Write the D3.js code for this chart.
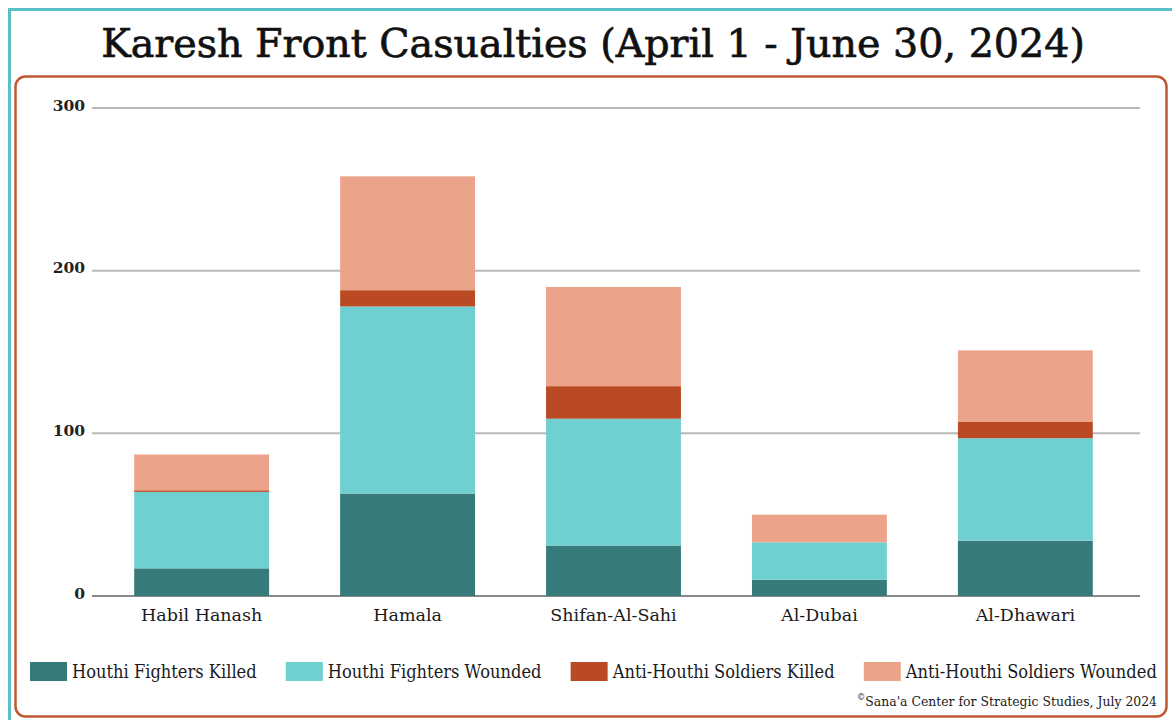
<!DOCTYPE html>
<html>
<head>
<meta charset="utf-8">
<script src="https://cdn.jsdelivr.net/npm/d3@7"></script>
<style>
  html, body { margin: 0; padding: 0; background: #fff; }
  svg { display: block; }
</style>
</head>
<body>
<svg id="chart" width="1172" height="720"></svg>
<script>
// ---- Data ----
const categories = ["Habil Hanash", "Hamala", "Shifan-Al-Sahi", "Al-Dubai", "Al-Dhawari"];
const seriesNames = ["Houthi Fighters Killed", "Houthi Fighters Wounded", "Anti-Houthi Soldiers Killed", "Anti-Houthi Soldiers Wounded"];
const houthiKilled       = [17, 63, 31, 10, 34];
const houthiWounded      = [47, 115, 78, 23, 63];
const antiHouthiKilled   = [1, 10, 20, 0, 10];
const antiHouthiWounded  = [22, 70, 61, 17, 44];
const yTicks = [0, 100, 200, 300];
const titleText = "Karesh Front Casualties (April 1 - June 30, 2024)";
const sourceText = "Sana'a Center for Strategic Studies, July 2024";

// ---- Styling ----
const colors = ["#367a7a", "#70cfd0", "#b94a24", "#eba48a"];
const W = 1172, H = 720;
const margin = { left: 92, right: 37, top: 108, bottom: 124 };

const svg = d3.select("#chart");
svg.append("rect").attr("width", W).attr("height", H).attr("fill", "#fff");

// outer teal frame
svg.append("rect")
  .attr("x", 9.5).attr("y", 9.5).attr("width", W + 20).attr("height", H + 20)
  .attr("fill", "none").attr("stroke", "#5bbfc6").attr("stroke-width", 3);

// inner orange rounded frame
svg.append("rect")
  .attr("x", 15.5).attr("y", 76.5).attr("width", 1151).attr("height", 640).attr("rx", 10)
  .attr("fill", "none").attr("stroke", "#c25731").attr("stroke-width", 2.5);

// title
function fitWidth(sel, target) {
  const w = sel.node().getComputedTextLength();
  const fs = parseFloat(sel.attr("font-size"));
  sel.attr("font-size", fs * target / w);
}
const title = svg.append("text")
  .attr("x", 593).attr("y", 57)
  .attr("text-anchor", "middle")
  .attr("font-family", "'DejaVu Serif', serif")
  .attr("font-size", 40)
  .attr("fill", "#111")
  .attr("stroke", "#111")
  .attr("stroke-width", 0.7)
  .text(titleText);
fitWidth(title, 984);

// ---- Scales ----
const x = d3.scaleBand()
  .domain(categories)
  .range([margin.left, W - margin.right])
  .paddingInner(0.345)
  .paddingOuter(0.205);

const y = d3.scaleLinear()
  .domain([0, 300])
  .range([H - margin.bottom, margin.top]);

// gridlines
const grid = svg.append("g");
grid.selectAll("line").data(yTicks).join("line")
  .attr("x1", margin.left).attr("x2", 1140)
  .attr("y1", d => y(d)).attr("y2", d => y(d))
  .attr("stroke", d => d === 0 ? "#8a8a8a" : "#b8b8b8")
  .attr("stroke-width", 2);

// y axis labels via d3 axis
const yAxis = svg.append("g")
  .attr("transform", `translate(${margin.left - 5},0)`)
  .call(d3.axisLeft(y).tickValues(yTicks).tickSize(0).tickPadding(2));
yAxis.select(".domain").remove();
yAxis.selectAll("text")
  .attr("font-family", "'DejaVu Serif', serif")
  .attr("font-size", 15.5)
  .attr("font-weight", "bold")
  .attr("fill", "#222")
  .attr("dy", "0.15em");

// stacked data
const rows = categories.map((c, i) => ({
  cat: c,
  [seriesNames[0]]: houthiKilled[i],
  [seriesNames[1]]: houthiWounded[i],
  [seriesNames[2]]: antiHouthiKilled[i],
  [seriesNames[3]]: antiHouthiWounded[i]
}));
const stack = d3.stack().keys(seriesNames)(rows);

svg.append("g").selectAll("g").data(stack).join("g")
  .attr("fill", (d, i) => colors[i])
  .selectAll("rect").data(d => d).join("rect")
  .attr("x", d => x(d.data.cat))
  .attr("width", x.bandwidth())
  .attr("y", d => y(d[1]))
  .attr("height", d => Math.max(0, y(d[0]) - y(d[1])));

// x axis labels
const xAxis = svg.append("g")
  .attr("transform", `translate(0,${y(0)})`)
  .call(d3.axisBottom(x).tickSize(0).tickPadding(13));
xAxis.select(".domain").remove();
xAxis.selectAll("text")
  .attr("font-family", "'DejaVu Serif', serif")
  .attr("font-size", 17.5)
  .attr("fill", "#1a1a1a");

// ---- Legend ----
const legY = 662, sq = { w: 37, h: 19 }, legStart = 30, legEnd = 1157;
const leg = svg.append("g");
const items = seriesNames.map((n, i) => {
  const g = leg.append("g");
  g.append("rect").attr("width", sq.w).attr("height", sq.h).attr("fill", colors[i]);
  const t = g.append("text")
    .attr("font-family", "'DejaVu Serif', serif")
    .attr("font-size", 18)
    .attr("fill", "#1a1a1a")
    .text(n);
  return { g, t, w: t.node().getComputedTextLength() };
});
// condensed look: scale text horizontally to fill the legend row
const natural = d3.sum(items, d => d.w);
const gap = 29;
const avail = (legEnd - legStart) - items.length * (sq.w + 5) - (items.length - 1) * gap;
const k = avail / natural;
let cx = legStart;
items.forEach(it => {
  const tw = it.w * k;
  it.t.attr("transform", `translate(${sq.w + 5},16) scale(${k},1)`);
  it.g.attr("transform", `translate(${cx},${legY})`);
  cx += sq.w + 5 + tw + gap;
});

// source (condensed via horizontal scale)
const srcG = svg.append("g");
const src = srcG.append("text")
  .attr("text-anchor", "end")
  .attr("font-family", "'DejaVu Serif', serif")
  .attr("font-size", 13.5)
  .attr("fill", "#1a1a1a");
src.append("tspan").attr("font-size", 9).attr("dy", -6).text("©");
src.append("tspan").attr("dy", 6).text(sourceText);
const sw = src.node().getComputedTextLength();
srcG.attr("transform", `translate(${legEnd},706) scale(${300 / sw},1)`);
</script>
</body>
</html>
